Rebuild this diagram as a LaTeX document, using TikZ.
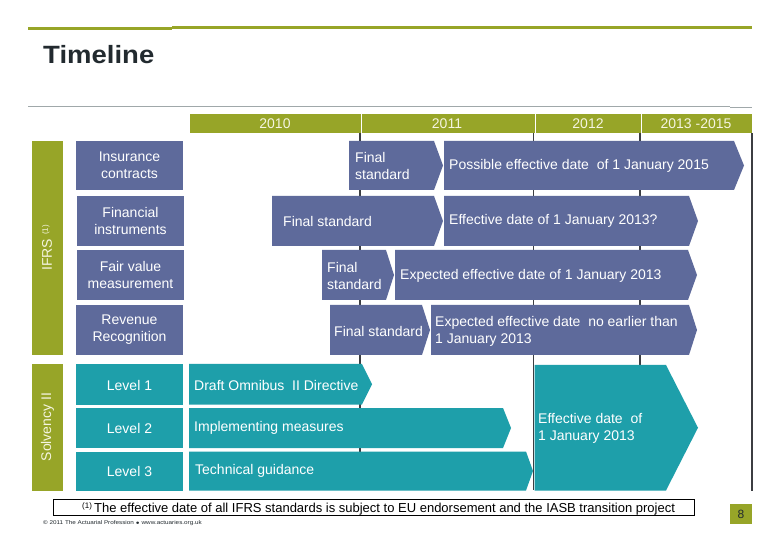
\documentclass[tikz,border=0pt]{standalone}
\usepackage{fontspec}
\setmainfont{Liberation Sans}
\definecolor{oliveG}{RGB}{151,165,40}
\definecolor{slateB}{RGB}{94,106,155}
\definecolor{tealB}{RGB}{30,159,170}
\definecolor{titleC}{RGB}{34,42,47}
\definecolor{grayL}{RGB}{160,168,170}
\definecolor{lineC}{RGB}{60,62,66}
\definecolor{creamT}{RGB}{245,245,225}
\newcommand\chevbox[6]{\fill[#6] (#1,#2) -- (#3,#2) -- (#4,{(#2+#5)/2}) -- (#3,#5) -- (#1,#5) -- cycle;}
\tikzset{
  lbl/.style={inner sep=0pt, text=white, font=\fontsize{14}{17}\selectfont},
  lw/.style={lbl, anchor=west, align=left},
  lc/.style={lbl, align=center},
  yr/.style={inner sep=0pt, text=creamT, font=\fontsize{14}{17}\selectfont},
}
\begin{document}
\begin{tikzpicture}[x=1pt,y=-1pt]
\useasboundingbox (0,0) rectangle (780,540);
\fill[white] (0,0) rectangle (780,540);
% header
\draw[oliveG, line width=3pt] (28,28.5) -- (172,28.5);
\draw[oliveG, line width=3pt] (172,27.5) -- (752,27.5);
\node[anchor=base west, inner sep=0pt, font=\fontsize{25}{30}\selectfont\bfseries, text=titleC, xscale=1.1] (title) at (43,64) {Timeline};
\draw[grayL, line width=1pt] (28,106.5) -- (730,106.5);
\draw[grayL, line width=1pt] (730,107.5) -- (752,107.5);
% year bar
\fill[oliveG] (190,114) rectangle (752,133.5);
\draw[white, line width=0.6pt] (361,114) -- (361,133.5) (535,114) -- (535,133.5) (641,114) -- (641,133.5);
\node[yr] (y10) at (275,124) {2010};
\node[yr] (y11) at (447,124) {2011};
\node[yr] (y12) at (588,124) {2012};
\node[yr] (y13) at (696,124) {2013 -2015};
% timeline lines
\draw[lineC, line width=1.2pt] (360,133.5) -- (360,490) (533.5,133.5) -- (533.5,490) (640,133.5) -- (640,490);
\draw[lineC, line width=2pt] (752,133.5) -- (752,491);
% left bars
\fill[oliveG] (31.5,141) rectangle (62.5,355);
\fill[oliveG] (32,364) rectangle (63,490.5);
\node[yr, rotate=90] (ifrs) at (47,248) {IFRS {\fontsize{8}{8}\selectfont\raisebox{4pt}{(1)}}};
\node[yr, rotate=90] (solv) at (47.5,427) {Solvency II};
% IFRS label boxes
\fill[slateB] (76,141) rectangle (183,190);
\fill[slateB] (77,196) rectangle (184,246);
\fill[slateB] (77,250) rectangle (184,300);
\fill[slateB] (76,305) rectangle (183,355);
\node[lc] (ins) at (129.5,165.5) {Insurance\\contracts};
\node[lc] (fin) at (130.5,221) {Financial\\instruments};
\node[lc] (fvm) at (130.5,275) {Fair value\\measurement};
\node[lc] (rev) at (129.5,330) {Revenue\\Recognition};
% IFRS rows
\chevbox{349}{141}{434}{443}{190}{slateB}
\chevbox{444}{141}{734}{744}{190}{slateB}
\chevbox{272}{196}{434}{443}{246}{slateB}
\chevbox{444}{196}{689}{698}{246}{slateB}
\chevbox{322}{250}{386}{394}{300}{slateB}
\chevbox{395}{250}{688}{697}{300}{slateB}
\chevbox{330}{305}{422}{430}{355}{slateB}
\chevbox{431}{305}{689}{697}{355}{slateB}
\node[lw] (r1a) at (355,165.5) {Final\\standard};
\node[lw] (r1b) at (449,165.5) {Possible effective date\ \ of 1 January 2015};
\node[lw] (r2a) at (283,221) {Final standard};
\node[lw] (r2b) at (449,221) {Effective date of 1 January 2013?};
\node[lw] (r3a) at (327,276) {Final\\standard};
\node[lw] (r3b) at (400,276) {Expected effective date of 1 January 2013};
\node[lw] (r4a) at (334,331) {Final standard};
\node[lw] (r4b) at (435,331) {Expected effective date\ \ no earlier than\\1 January 2013};
% Solvency rows
\fill[tealB] (76,364) rectangle (183,404.5);
\fill[tealB] (76,408) rectangle (183,448);
\fill[tealB] (76,451.5) rectangle (183,490.5);
\node[lc] (l1) at (129.5,385) {Level 1};
\node[lc] (l2) at (129.5,428) {Level 2};
\node[lc] (l3) at (129.5,471) {Level 3};
\chevbox{189}{364}{362}{372}{404.5}{tealB}
\chevbox{189}{408}{503}{511}{448}{tealB}
\chevbox{189}{451.5}{526}{533}{490.5}{tealB}
\chevbox{534.5}{365}{666}{698}{490.5}{tealB}
\node[lw] (s1) at (194,385) {Draft Omnibus\ \ II Directive};
\node[lw] (s2) at (194,428) {Implementing measures};
\node[lw] (s3) at (195,471) {Technical guidance};
\node[lw] (s4) at (538,428) {Effective date\ \ of\\1 January 2013};
% footnote
\draw[black, line width=1pt] (53,499) rectangle (694,515);
\node[anchor=base west, inner sep=0pt, font=\fontsize{8}{8}\selectfont] (fnm) at (82,508) {(1)};
\node[anchor=base west, inner sep=0pt, font=\fontsize{13}{15}\selectfont] (fn) at (94,512.5) {The effective date of all IFRS standards is subject to EU endorsement and the IASB transition project};
\node[anchor=west, inner sep=0pt, font=\fontsize{5.5}{6}\selectfont, text=titleC, xscale=1.15] (copy) at (43,523) {\textcopyright\ 2011 The Actuarial Profession $\bullet$ www.actuaries.org.uk};
% page number
\fill[oliveG] (730,504) rectangle (752,524);
\node[inner sep=0pt, font=\fontsize{12}{14}\selectfont, text=titleC] (pg) at (741,514.5) {8};
\end{tikzpicture}
\end{document}
